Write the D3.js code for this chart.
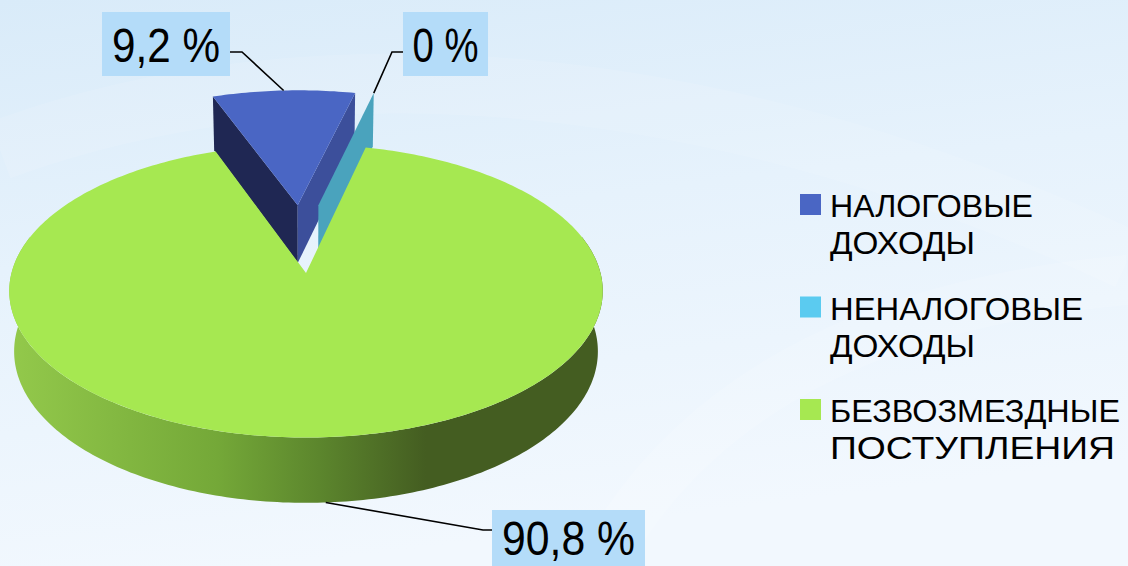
<!DOCTYPE html>
<html><head><meta charset="utf-8">
<script src="https://cdn.jsdelivr.net/npm/d3@7"></script>
<style>html,body{margin:0;padding:0;overflow:hidden;background:#fff}svg{display:block}</style>
</head><body>
<svg id="chart" width="1128" height="566"></svg>
<script>
// ---------------- data ----------------
const categories = ["НАЛОГОВЫЕ ДОХОДЫ", "НЕНАЛОГОВЫЕ ДОХОДЫ", "БЕЗВОЗМЕЗДНЫЕ ПОСТУПЛЕНИЯ"];
const legendLines = [["НАЛОГОВЫЕ", "ДОХОДЫ"], ["НЕНАЛОГОВЫЕ", "ДОХОДЫ"], ["БЕЗВОЗМЕЗДНЫЕ", "ПОСТУПЛЕНИЯ"]];
const values = [9.2, 0, 90.8];
const valueLabels = ["9,2 %", "0 %", "90,8 %"];

// ---------------- styles ----------------
const topColors = ["#4a66c4", "#4aa3bd", "#a6e851"];
const startWallColors = ["#1f2753", "#2f7f96", "#6a9a34"];
const endWallColors = ["#3c4f9b", "#4aa3bd", "#6a9a34"];
const legendColors = ["#4a66c4", "#5bcbf0", "#a6e851"];
const legendWidths = [[203, 145], [253, 145], [290, 285]];
const explodeDist = [0.5, 0.5, 0];
const explodeAdjustDeg = [0, -8, 0];

const W = 1128, H = 566;
const svg = d3.select("#chart");
const defs = svg.append("defs");

// background
const bg = defs.append("linearGradient").attr("id", "bg").attr("x1", 0).attr("y1", 0).attr("x2", 0.25).attr("y2", 1);
bg.append("stop").attr("offset", "0%").attr("stop-color", "#d9ebf9");
bg.append("stop").attr("offset", "45%").attr("stop-color", "#e6f2fc");
bg.append("stop").attr("offset", "100%").attr("stop-color", "#f2f8fe");
svg.append("rect").attr("width", W).attr("height", H).attr("fill", "url(#bg)");
// faint swooshes
svg.append("path").attr("d", "M0,150 C300,40 700,60 1128,260").attr("fill", "none")
  .attr("stroke", "#ffffff").attr("stroke-opacity", 0.1).attr("stroke-width", 60);
svg.append("path").attr("d", "M600,566 C700,380 900,300 1128,280").attr("fill", "none")
  .attr("stroke", "#ffffff").attr("stroke-opacity", 0.14).attr("stroke-width", 50);

// side gradient for green wall
const sg = defs.append("linearGradient").attr("id", "sideGreen").attr("gradientUnits", "userSpaceOnUse")
  .attr("x1", 10).attr("y1", 0).attr("x2", 604).attr("y2", 0);
[["0%", "#93c94b"], ["35%", "#74a838"], ["52%", "#5c862d"], ["70%", "#445d21"], ["100%", "#445d21"]]
  .forEach(([o, c]) => sg.append("stop").attr("offset", o).attr("stop-color", c));
const sideFills = ["#2d3c78", "#3a8aa2", "url(#sideGreen)"];

// ---------------- 3D projection ----------------
const ox = 306, oy = 273;          // projected pie centre
const Dcam = 7.1;                  // camera distance (radius units)
const tilt = Math.asin(0.49);
const sT = Math.sin(tilt), cT = Math.cos(tilt);
const thick = 0.238;               // pie thickness (radius units)
const R = 294.5;
const xS = d3.scaleLinear().domain([-1, 1]).range([ox - R, ox + R]);
const yS = d3.scaleLinear().domain([-1, 1]).range([oy - R, oy + R]);
function proj(u, v, h) {
  const Z = Dcam + v * cT - h * sT;
  return [xS(u * Dcam / Z), yS(-(v * sT + h * cT) * Dcam / Z)];
}
const line = d3.line();

const rot = -20 * Math.PI / 180;
const pie = d3.pie().sort(null).value(d => d).startAngle(rot).endAngle(rot + 2 * Math.PI);
const arcs = pie(values);

function rim(a0, a1, off, h, r = 1) {
  const n = Math.max(2, Math.ceil(Math.abs(a1 - a0) / (Math.PI / 180)));
  const pts = [];
  for (let k = 0; k <= n; k++) {
    const a = a0 + (a1 - a0) * k / n;
    pts.push(proj(off[0] + r * Math.sin(a), off[1] + r * Math.cos(a), h));
  }
  return pts;
}

const slices = arcs.map((d, i) => {
  const mid = (d.startAngle + d.endAngle) / 2 + explodeAdjustDeg[i] * Math.PI / 180;
  const off = [explodeDist[i] * Math.sin(mid), explodeDist[i] * Math.cos(mid)];
  return { d, i, off, mid: (d.startAngle + d.endAngle) / 2 };
});

const g = svg.append("g");
slices.forEach(({ d, i, off }) => {
  const gs = g.append("g").attr("class", "slice");
  const a0 = d.startAngle, a1 = d.endAngle;
  // outer wall (front facing part)
  const lo = Math.max(a0, 75 * Math.PI / 180), hi = Math.min(a1, 285 * Math.PI / 180);
  if (hi > lo) {
    const pts = rim(lo, hi, off, 0).concat(rim(hi, lo, off, -thick));
    gs.append("path").attr("d", line(pts) + "Z").attr("fill", sideFills[i]);
  }
  const tipT = proj(off[0], off[1], 0), tipB = proj(off[0], off[1], -thick);
  // radial walls
  if (Math.sin(a0) < 0) {
    const rt = proj(off[0] + Math.sin(a0), off[1] + Math.cos(a0), 0);
    const rb = proj(off[0] + Math.sin(a0), off[1] + Math.cos(a0), -thick);
    gs.append("path").attr("d", line([tipT, rt, rb, tipB]) + "Z").attr("fill", startWallColors[i]);
  }
  if (Math.sin(a1) > 0) {
    const rt = proj(off[0] + Math.sin(a1), off[1] + Math.cos(a1), 0);
    const rb = proj(off[0] + Math.sin(a1), off[1] + Math.cos(a1), -thick);
    gs.append("path").attr("d", line([tipT, rt, rb, tipB]) + "Z").attr("fill", endWallColors[i]);
  }
  // top face
  if (a1 > a0) {
    const pts = [tipT].concat(rim(a0, a1, off, 0));
    gs.append("path").attr("d", line(pts) + "Z").attr("fill", topColors[i]);
  }
});

// ---------------- data labels ----------------
const labelBoxes = [
  { x: 102, y: 12, w: 128, h: 64, tl: 108, base: 50, attachY: 40, elbow: 12, side: "right", anchorH: 0 },
  { x: 403, y: 12, w: 85, h: 64, tl: 66, base: 50, attachY: 40, elbow: 11, side: "left", anchorH: 0 },
  { x: 492, y: 510, w: 153, h: 64, tl: 133, base: 45, attachY: 20, elbow: 9, side: "left", anchorH: -thick }
];
const labG = svg.append("g");
slices.forEach(({ d, i, off, mid }) => {
  const b = labelBoxes[i];
  const a = (d.endAngle > d.startAngle) ? mid : d.startAngle;
  const end = proj(off[0] + Math.sin(a), off[1] + Math.cos(a), b.anchorH);
  const sx = b.side === "right" ? b.x + b.w : b.x;
  const ex = b.side === "right" ? sx + b.elbow : sx - b.elbow;
  const yy = b.y + b.attachY;
  labG.append("path").attr("d", line([[sx, yy], [ex, yy], end])).attr("fill", "none")
    .attr("stroke", "#000").attr("stroke-width", 1.6);
  labG.append("rect").attr("x", b.x).attr("y", b.y).attr("width", b.w).attr("height", b.h).attr("fill", "#b4dcf9");
  labG.append("text").attr("x", b.x + b.w / 2).attr("y", b.y + b.base)
    .attr("text-anchor", "middle").attr("font-family", "Liberation Sans, Arial, sans-serif")
    .attr("font-size", 48).attr("textLength", b.tl).attr("lengthAdjust", "spacingAndGlyphs")
    .attr("fill", "#000").text(valueLabels[i]);
});

// ---------------- legend ----------------
const legY = d3.scalePoint().domain(categories).range([194, 399]);
const leg = svg.append("g");
categories.forEach((c, i) => {
  const y0 = legY(c);
  leg.append("rect").attr("x", 800).attr("y", y0).attr("width", 21).attr("height", 21).attr("fill", legendColors[i]);
  legendLines[i].forEach((t, j) => {
    leg.append("text").attr("x", 830).attr("y", y0 + 23 + j * 37)
      .attr("font-family", "Liberation Sans, Arial, sans-serif").attr("font-size", 32)
      .attr("textLength", legendWidths[i][j]).attr("lengthAdjust", "spacingAndGlyphs")
      .attr("fill", "#000").text(t);
  });
});
</script>
</body></html>
